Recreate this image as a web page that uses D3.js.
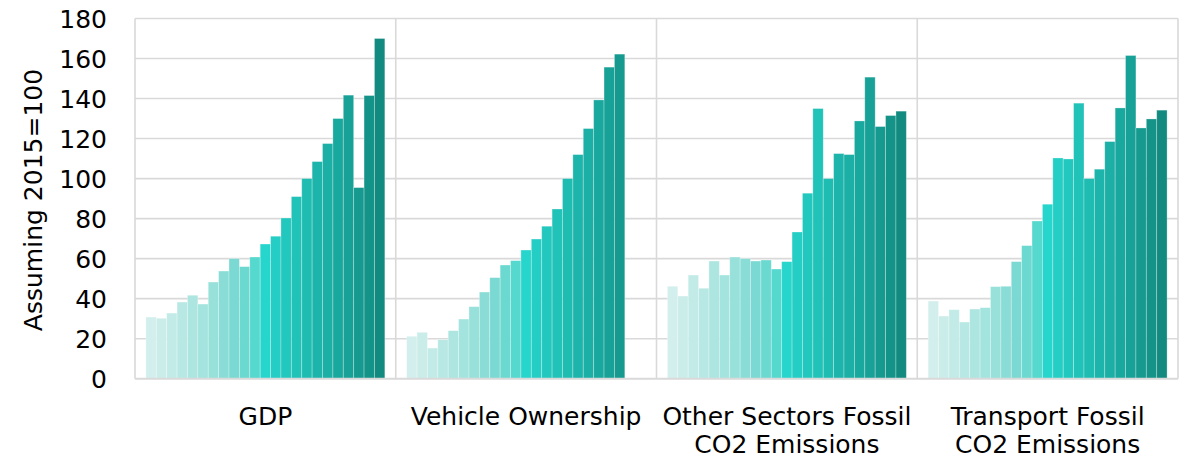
<!DOCTYPE html>
<html>
<head>
<meta charset="utf-8">
<script src="https://cdn.jsdelivr.net/npm/d3@7"></script>
<style>
  html, body { margin: 0; padding: 0; background: #fff; }
  svg { display: block; }
  text { font-family: "DejaVu Sans", sans-serif; fill: #000; }
</style>
</head>
<body>
<svg id="chart" width="1185" height="465"></svg>
<script>
// ---- data ----
const categories = ["GDP", "Vehicle Ownership", "Other Sectors Fossil CO2 Emissions", "Transport Fossil CO2 Emissions"];
const categoryLines = [["GDP"], ["Vehicle Ownership"], ["Other Sectors Fossil", "CO2 Emissions"], ["Transport Fossil", "CO2 Emissions"]];
const years = [2000,2001,2002,2003,2004,2005,2006,2007,2008,2009,2010,2011,2012,2013,2014,2015,2016,2017,2018,2019,2020,2021,2022];
const gdp = [30.8,30.2,32.8,38.3,41.7,37.3,48.3,53.8,60,56,60.8,67.3,71.2,80.3,91,100,108.5,117.5,130,141.7,95.5,141.5,170];
const vehicleOwnership = [21.2,23.2,15.3,19.5,24,29.8,36,43.3,50.5,56.8,59,64.3,69.8,76.2,84.8,100,112,125,139.3,155.7,162.2];
const otherSectorsCO2 = [46.2,41.3,51.8,45.2,58.8,51.8,60.8,60,58.8,59.3,54.8,58.5,73.3,92.7,135,100,112.5,112,128.8,150.7,126,131.5,133.7];
const transportCO2 = [38.8,31.3,34.5,28.3,34.8,35.5,46,46.2,58.5,66.5,78.8,87.2,110.3,109.8,137.7,100,104.7,118.5,135.3,161.5,125.3,129.8,134.2];
const yTicks = [0,20,40,60,80,100,120,140,160,180];
const yearColors = ["#d3efed","#cbedea","#c2ebe7","#b8e8e4","#ade5e0","#a3e4de","#97e1da","#89ddd6","#7ad9d2","#6bd9d0","#55d8ce","#26d6cc",
                    "#24cec4","#22c8be","#21c2b8","#1fbcb2","#1db5ab","#1bafa5","#19a89e","#18a197","#169a90","#149389","#128a80"];
const seriesByCategory = [gdp, vehicleOwnership, otherSectorsCO2, transportCO2];

// ---- layout ----
const svg = d3.select("#chart");
const plotLeft = 135, plotRight = 1178, plotTop = 18.5, plotBottom = 378.7;

const x0 = d3.scaleBand().domain(categories).range([plotLeft, plotRight]).padding(0);
const x1 = d3.scaleBand().domain(years).range([0, x0.bandwidth()]).paddingInner(0).paddingOuter(1.05);
const y = d3.scaleLinear().domain([0, 180]).range([plotBottom, plotTop]);
const color = d3.scaleOrdinal().domain(years).range(yearColors);

// gridlines
svg.append("g").selectAll("line").data(yTicks.filter(t => t > 0)).join("line")
  .attr("x1", plotLeft).attr("x2", plotRight)
  .attr("y1", d => y(d)).attr("y2", d => y(d))
  .attr("stroke", "#d9d9d9").attr("stroke-width", 1.6);

// bars
const groups = svg.append("g").selectAll("g").data(categories).join("g")
  .attr("transform", d => `translate(${x0(d)},0)`);
groups.each(function(cat, ci) {
  const vals = seriesByCategory[ci].map((v, i) => ({year: years[i], value: v}));
  d3.select(this).selectAll("rect").data(vals).join("rect")
    .attr("x", d => x1(d.year))
    .attr("width", x1.bandwidth())
    .attr("y", d => y(d.value))
    .attr("height", d => y(0) - y(d.value))
    .attr("fill", d => color(d.year))
    .attr("stroke", "rgba(255,255,255,0.35)")
    .attr("stroke-width", 0.8);
});

// vertical separators
svg.append("g").selectAll("line").data(categories.concat(["end"])).join("line")
  .attr("x1", (d, i) => i < categories.length ? x0(d) : plotRight)
  .attr("x2", (d, i) => i < categories.length ? x0(d) : plotRight)
  .attr("y1", plotTop).attr("y2", plotBottom)
  .attr("stroke", "#d9d9d9").attr("stroke-width", 1.6);

// bottom axis line
svg.append("line").attr("x1", plotLeft).attr("x2", plotRight).attr("y1", y(0)).attr("y2", y(0))
  .attr("stroke", "#d9d9d9").attr("stroke-width", 2);

// y axis labels
const yAxis = d3.axisLeft(y).tickValues(yTicks).tickSize(0).tickPadding(0);
const yg = svg.append("g").attr("transform", `translate(107,0)`).call(yAxis);
yg.select(".domain").remove();
yg.selectAll("text").attr("font-size", 25).attr("font-family", "DejaVu Sans").attr("fill", "#000").attr("dy", "0.36em");

// y title
svg.append("text")
  .attr("transform", `translate(42,200) rotate(-90)`)
  .attr("text-anchor", "middle")
  .attr("font-size", 25)
  .text("Assuming 2015=100");

// category labels
categories.forEach((cat, ci) => {
  const cx = x0(cat) + x0.bandwidth() / 2;
  const t = svg.append("text").attr("text-anchor", "middle").attr("font-size", 25);
  categoryLines[ci].forEach((ln, li) => {
    t.append("tspan").attr("x", cx).attr("y", 425 + li * 28).text(ln);
  });
});
</script>
</body>
</html>
